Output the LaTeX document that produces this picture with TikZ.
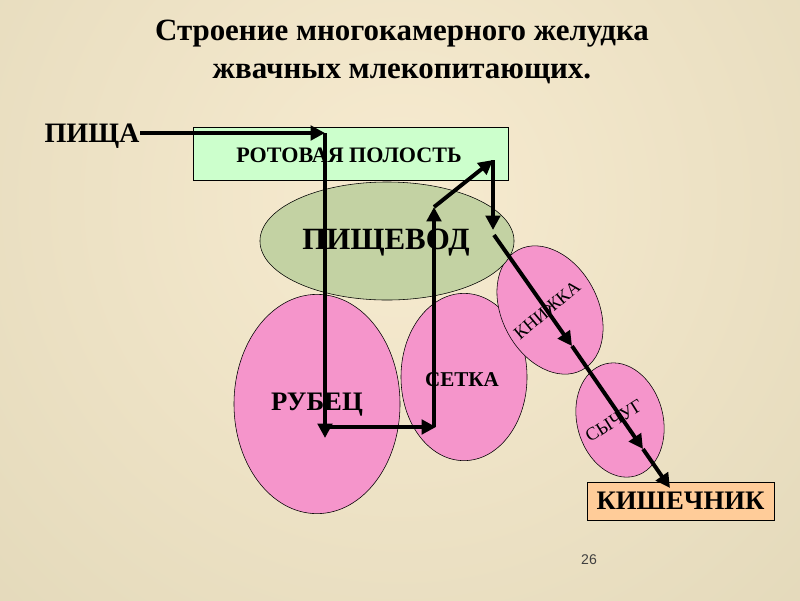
\documentclass[tikz,border=0pt]{standalone}
\usepackage{fontspec}
\setmainfont{Liberation Serif}
\newfontfamily\numfont{Liberation Sans}
\usetikzlibrary{arrows.meta,shapes.geometric}

\definecolor{bgin}{HTML}{F7EBD0}
\definecolor{bgout}{HTML}{D3CAA8}
\definecolor{mouthgreen}{HTML}{CCFFCC}
\definecolor{gulletgreen}{HTML}{C3D2A3}
\definecolor{chamberpink}{HTML}{F595CB}
\definecolor{gutpeach}{HTML}{FFCC99}

\begin{document}
\begin{tikzpicture}[
x=0.025cm,y=-0.025cm,
chamber/.style={ellipse,draw,thin,fill=chamberpink,inner sep=0pt},
organbox/.style={rectangle,draw,thin,inner sep=0pt},
lbl/.style={font=\bfseries},
flow/.style={-{Triangle[length=0.36cm,width=0.36cm]},line width=2.8pt}
]
% background
\begin{scope}
\clip (0,0) rectangle (800,600);
\shade[inner color=bgin,outer color=bgout] (-700,-900) rectangle (1500,1300);
\end{scope}
\useasboundingbox (0,0) rectangle (800,600);

% title
\node[lbl,font=\bfseries\fontsize{22}{27}\selectfont,align=center] (title) at (402,52)
  {Строение многокамерного желудка\\жвачных млекопитающих.};

% chambers
\node[chamber,minimum width=4.15cm,minimum height=5.48cm] (rumen) at (317,404) {};
\node[chamber,minimum width=3.15cm,minimum height=4.18cm] (reticulum) at (464,377) {};
\node[chamber,minimum width=2.4cm,minimum height=3.4cm,rotate=28] (omasum) at (550,310) {};
\node[chamber,minimum width=2.15cm,minimum height=2.9cm,rotate=15] (abomasum) at (620,420) {};
\node[ellipse,draw,thin,fill=gulletgreen,minimum width=6.35cm,minimum height=2.95cm] (gullet) at (387,241) {};
\node[organbox,fill=mouthgreen,minimum width=7.88cm,minimum height=1.33cm] (mouth) at (350.5,153.5) {};
\node[organbox,fill=gutpeach,minimum width=4.68cm,minimum height=0.95cm] (gut) at (680.5,501) {};

% labels
\node[lbl,font=\bfseries\fontsize{20}{24}\selectfont] (foodlbl) at (92,136) {ПИЩА};
\node[lbl,font=\bfseries\fontsize{15.7}{19}\selectfont] (mouthlbl) at (349,155) {РОТОВАЯ ПОЛОСТЬ};
\node[lbl,font=\bfseries\fontsize{22}{26}\selectfont] (gulletlbl) at (386,243) {ПИЩЕВОД};
\node[lbl,font=\bfseries\fontsize{19}{23}\selectfont] (rumenlbl) at (317,405) {РУБЕЦ};
\node[lbl,font=\bfseries\fontsize{15}{18}\selectfont] (reticlbl) at (462,380) {СЕТКА};
\node[font=\fontsize{13}{16}\selectfont,rotate=40] (omasumlbl) at (547,310) {КНИЖКА};
\node[font=\fontsize{13}{16}\selectfont,rotate=32] (abomlbl) at (614,421) {СЫЧУГ};
\node[lbl,font=\bfseries\fontsize{19}{23}\selectfont] (gutlbl) at (gut.center) {КИШЕЧНИК};
\node[font=\numfont\fontsize{10}{12}\selectfont,text=black!75] (pagenum) at (589,560) {26};

% path of the food
\coordinate (p0) at (140,133);
\coordinate (p1) at (325,133);
\coordinate (p2) at (325,438);
\coordinate (p3) at (325,427);
\coordinate (p4) at (436,427);
\coordinate (p5) at (434,207);
\coordinate (p6) at (493,160);
\coordinate (p7) at (493,230);
\coordinate (p8) at (494,235);
\coordinate (p9) at (572,346);
\coordinate (p10) at (643,449);
\coordinate (p11) at (670,488);

\draw[flow] (p0) -- (p1);
\draw[flow] (p1) -- (p2);
\draw[flow] (p3) -- (p4);
\draw[flow] (p4 -| p5) -- (p5);
\draw[flow] (p5) -- (p6);
\draw[flow] (p6) -- (p7);
\draw[flow] (p8) -- (p9);
\draw[flow] (p9) -- (p10);
\draw[flow] (p10) -- (p11);
\end{tikzpicture}
\end{document}
